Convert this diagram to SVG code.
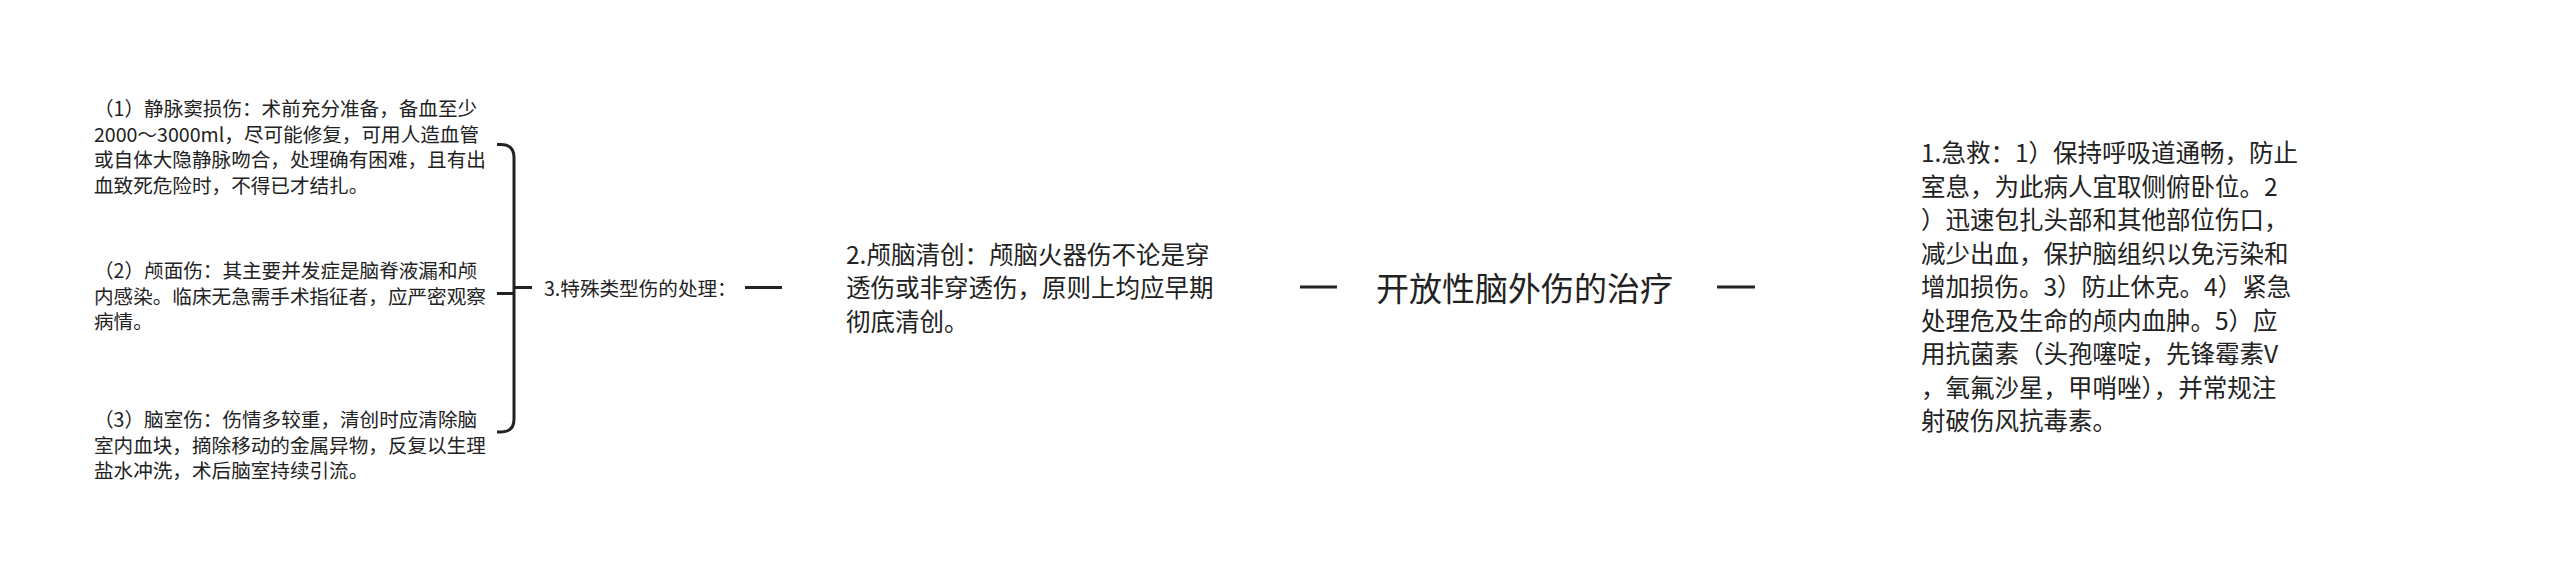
<svg xmlns="http://www.w3.org/2000/svg" width="2560" height="564" viewBox="0 0 2560 564">
<style>
text{font-family:"Noto Sans CJK SC","Noto Sans",sans-serif;fill:#222}
.s{font-size:19.6px}
.m{font-size:24.5px}
.t{font-size:33px}
.c{fill:none;stroke:#222;stroke-width:3;stroke-linecap:butt}
</style>
<rect width="2560" height="564" fill="#fff"/>
<g id="connectors">
<path class="c" d="M497,144.5 H501 Q514,144.5 514,157.5 V419 Q514,432 501,432 H497"/>
<path class="c" d="M497,293.5 H514"/>
<path class="c" d="M514,287.5 H532"/>
<path class="c" d="M745,287.5 H782"/>
<path class="c" d="M1300,287 H1337"/>
<path class="c" d="M1717,287 H1755"/>
</g>
<g id="n1">
<text class="s" x="94" y="116">（1）静脉窦损伤：术前充分准备，备血至少</text>
<text class="s" x="94" y="141.5">2000～3000ml，尽可能修复，可用人造血管</text>
<text class="s" x="94" y="167">或自体大隐静脉吻合，处理确有困难，且有出</text>
<text class="s" x="94" y="192.5">血致死危险时，不得已才结扎。</text>
</g>
<g id="n2">
<text class="s" x="94" y="278">（2）颅面伤：其主要并发症是脑脊液漏和颅</text>
<text class="s" x="94" y="303.5">内感染。临床无急需手术指征者，应严密观察</text>
<text class="s" x="94" y="329">病情。</text>
</g>
<g id="n3">
<text class="s" x="94" y="427">（3）脑室伤：伤情多较重，清创时应清除脑</text>
<text class="s" x="94" y="452.5">室内血块，摘除移动的金属异物，反复以生理</text>
<text class="s" x="94" y="478">盐水冲洗，术后脑室持续引流。</text>
</g>
<g id="n4">
<text class="s" x="544" y="295.5">3.特殊类型伤的处理：</text>
</g>
<g id="n5">
<text class="m" x="846" y="264">2.颅脑清创：颅脑火器伤不论是穿</text>
<text class="m" x="846" y="297.3">透伤或非穿透伤，原则上均应早期</text>
<text class="m" x="846" y="330.6">彻底清创。</text>
</g>
<g id="root">
<text class="t" x="1376" y="301">开放性脑外伤的治疗</text>
</g>
<g id="n6">
<text class="m" x="1921" y="162">1.急救：1）保持呼吸道通畅，防止</text>
<text class="m" x="1921" y="195.5">室息，为此病人宜取侧俯卧位。2</text>
<text class="m" x="1921" y="229">）迅速包扎头部和其他部位伤口，</text>
<text class="m" x="1921" y="262.5">减少出血，保护脑组织以免污染和</text>
<text class="m" x="1921" y="296">增加损伤。3）防止休克。4）紧急</text>
<text class="m" x="1921" y="329.5">处理危及生命的颅内血肿。5）应</text>
<text class="m" x="1921" y="363">用抗菌素（头孢噻啶，先锋霉素V</text>
<text class="m" x="1921" y="396.5">，氧氟沙星，甲哨唑），并常规注</text>
<text class="m" x="1921" y="430">射破伤风抗毒素。</text>
</g>
</svg>
